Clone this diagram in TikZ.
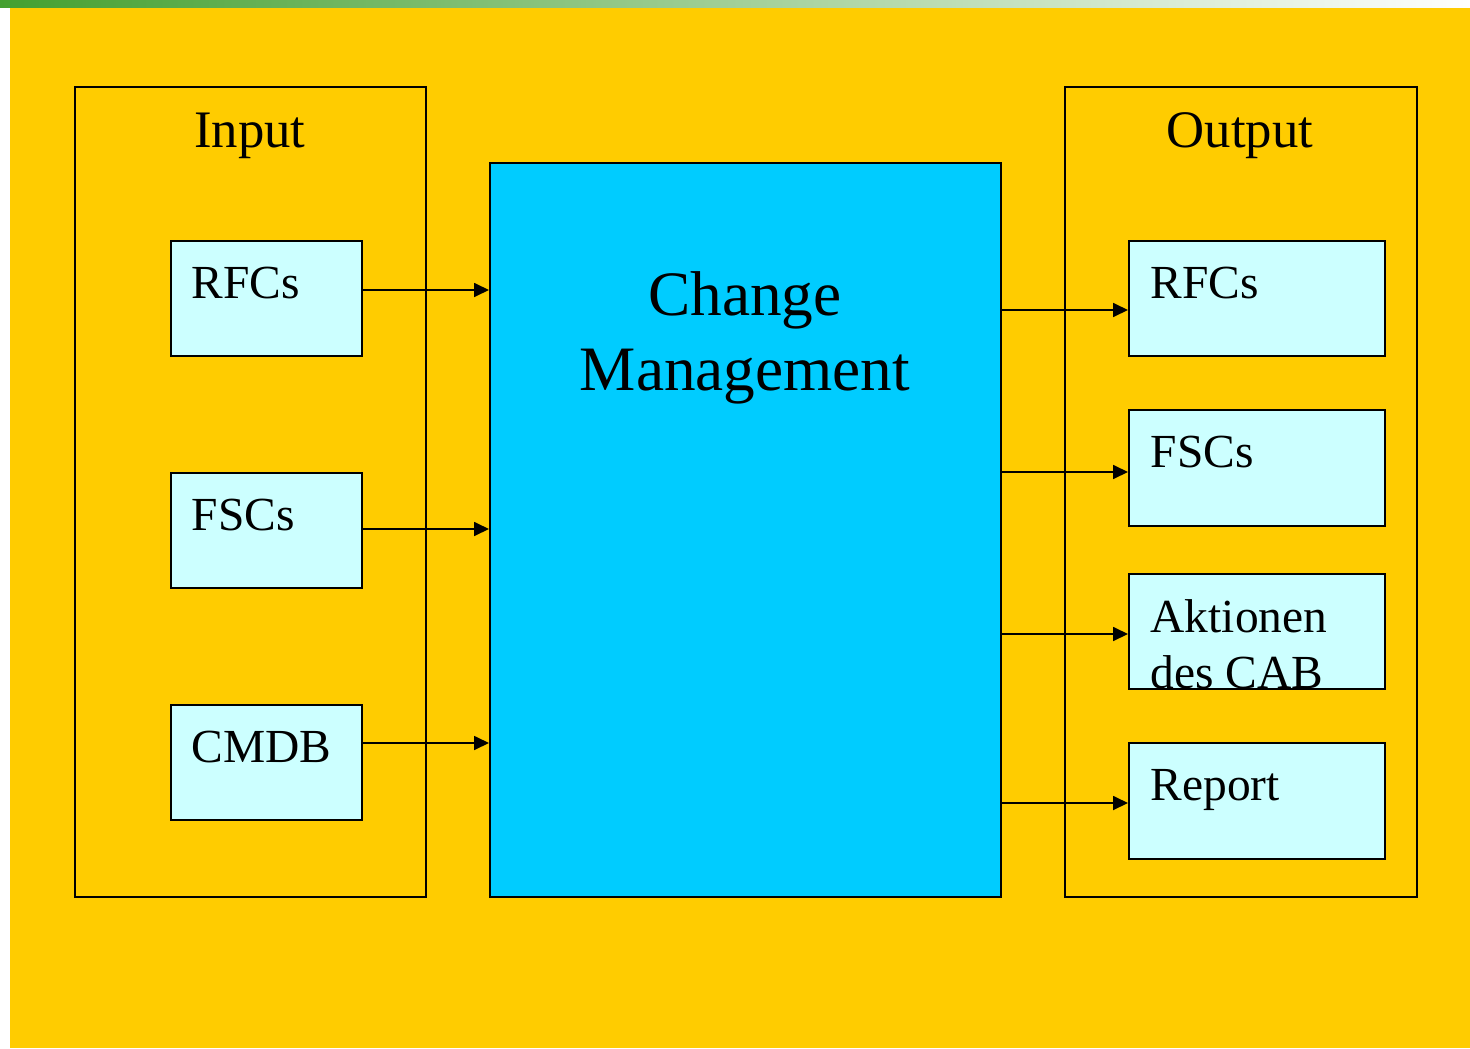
\documentclass[tikz,border=0pt]{standalone}
\usepackage{fontspec}
\setmainfont{Liberation Serif}
\usetikzlibrary{calc,arrows.meta}
\definecolor{slideyellow}{HTML}{FFCC00}
\definecolor{cmblue}{HTML}{00CCFF}
\definecolor{boxcyan}{HTML}{CCFFFF}
\definecolor{bargreen}{HTML}{44A030}
\tikzset{
	frame/.style={draw=black, line width=0.45pt, fill=slideyellow, anchor=north west, inner sep=0pt},
	box/.style={draw=black, line width=0.45pt, fill=boxcyan, anchor=north west, inner sep=0pt, minimum height=1.15cm},
	boxtext/.style={anchor=base west, inner sep=0pt, font=\fontsize{13.5}{15.9}\selectfont},
	headtext/.style={anchor=base, inner sep=0pt, font=\fontsize{15}{18}\selectfont},
	flow/.style={line width=0.5pt, -{Triangle[length=1.5mm,width=1.4mm]}}
}

\begin{document}
\begin{tikzpicture}
			%%%%% START %%%%%
			
			\useasboundingbox (0, 0) rectangle (14.70, -10.48);
			\shade[left color=bargreen, right color=white] (0, 0) rectangle (14.70, -0.08);
			\fill[slideyellow] (0.10, -0.08) rectangle (14.70, -10.48);
			
			% frames
			\node[frame, minimum width=3.51cm, minimum height=8.10cm] (inframe) at (0.74, -0.86) {};
			\node[frame, minimum width=3.52cm, minimum height=8.10cm] (outframe) at (10.64, -0.86) {};
			\node[headtext] (intitle) at (2.50, -1.48) {Input};
			\node[headtext] (outtitle) at (12.40, -1.48) {Output};
			
			% process
			\node[draw=black, line width=0.45pt, fill=cmblue, anchor=north west, inner sep=0pt,
				minimum width=5.11cm, minimum height=7.34cm] (cm) at (4.89, -1.62) {};
			\node[anchor=base, inner sep=0pt, font=\fontsize{18}{21}\selectfont] (cmtitle) at (7.45, -3.15) {Change};
			\node[anchor=base, inner sep=0pt, font=\fontsize{18}{21}\selectfont] (cmtitleb) at (7.45, -3.90) {Management};
			
			% input boxes
			\node[box, minimum width=1.91cm] (inrfc) at (1.70, -2.40) {};
			\node[box, minimum width=1.91cm] (infsc) at (1.70, -4.72) {};
			\node[box, minimum width=1.91cm] (incmdb) at (1.70, -7.04) {};
			\node[boxtext] at ($(inrfc.north west)+(0.21, -0.58)$) {RFCs};
			\node[boxtext] at ($(infsc.north west)+(0.21, -0.58)$) {FSCs};
			\node[boxtext] at ($(incmdb.north west)+(0.21, -0.58)$) {CMDB};
			
			% output boxes
			\node[box, minimum width=2.56cm] (outrfc) at (11.28, -2.40) {};
			\node[box, minimum width=2.56cm, minimum height=1.16cm] (outfsc) at (11.28, -4.09) {};
			\node[box, minimum width=2.56cm] (outcab) at (11.28, -5.73) {};
			\node[box, minimum width=2.56cm, minimum height=1.16cm] (outrep) at (11.28, -7.42) {};
			\node[boxtext] at ($(outrfc.north west)+(0.22, -0.58)$) {RFCs};
			\node[boxtext] at ($(outfsc.north west)+(0.22, -0.58)$) {FSCs};
			\node[boxtext] at ($(outcab.north west)+(0.22, -0.59)$) {Aktionen};
			\node[boxtext] at ($(outcab.north west)+(0.22, -1.15)$) {des CAB};
			\node[boxtext] at ($(outrep.north west)+(0.22, -0.58)$) {Report};
			
			% arrows in
			\draw[flow] (inrfc.east |- 0, -2.90) -- (cm.west |- 0, -2.90);
			\draw[flow] (infsc.east |- 0, -5.29) -- (cm.west |- 0, -5.29);
			\draw[flow] (incmdb.east |- 0, -7.43) -- (cm.west |- 0, -7.43);
			
			% arrows out
			\draw[flow] (cm.east |- 0, -3.10) -- (outrfc.west |- 0, -3.10);
			\draw[flow] (cm.east |- 0, -4.72) -- (outfsc.west |- 0, -4.72);
			\draw[flow] (cm.east |- 0, -6.34) -- (outcab.west |- 0, -6.34);
			\draw[flow] (cm.east |- 0, -8.03) -- (outrep.west |- 0, -8.03);
			
			%%%%% END %%%%%
\end{tikzpicture}
\end{document}
